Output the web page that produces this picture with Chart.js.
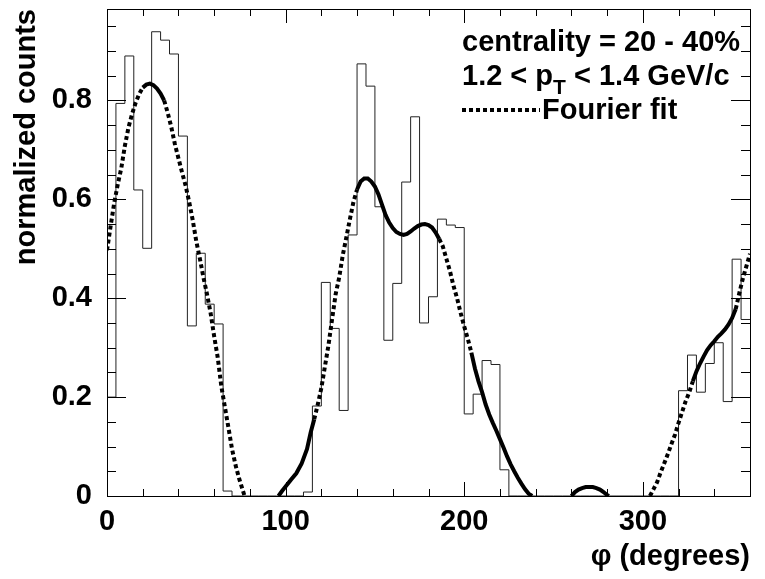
<!DOCTYPE html>
<html>
<head>
<meta charset="utf-8">
<script src="https://cdn.jsdelivr.net/npm/chart.js@4.4.1/dist/chart.umd.min.js"></script>
<style>
  html, body { margin: 0; padding: 0; background: #fff; }
</style>
</head>
<body>
<canvas id="phiChart" width="765" height="579"></canvas>
<script>
// histogram: 72 bins of 5 degrees, normalized counts
const binWidth = 5;
const binCounts = [
  0.200, 0.794, 0.890, 0.619, 0.501, 0.939, 0.922, 0.894, 0.728, 0.344,
  0.491, 0.388, 0.348, 0.010, 0, 0, 0, 0, 0, 0,
  0, 0, 0.008, 0.182, 0.432, 0.339, 0.173, 0.528, 0.874, 0.829,
  0.585, 0.315, 0.430, 0.635, 0.767, 0.350, 0.403, 0.560, 0.548, 0.543,
  0.166, 0.206, 0.274, 0.266, 0.053, 0, 0, 0, 0, 0,
  0, 0, 0, 0, 0, 0, 0, 0, 0, 0,
  0, 0, 0, 0, 0.213, 0.285, 0.210, 0.268, 0.310, 0.191,
  0.479, 0.357
];

// Fourier fit (null = below zero, not drawn)
const fitPhi = [
  0, 2, 4, 6, 8, 10, 12, 14, 16, 18, 20, 22, 24, 26, 28, 30, 32, 34, 36, 38,
  40, 42, 44, 46, 48, 50, 52, 54, 56, 58, 60, 62, 64, 66, 68, 70, 72, 74, 76, 77,
  86,
  96, 98, 100, 103, 106, 109, 112, 114, 116, 118, 120, 122, 124, 126, 128, 130, 132, 134, 136, 138,
  140, 142, 144, 146, 148, 150, 152, 154, 156, 158, 160, 162, 164, 166, 168, 170, 172, 174, 176, 178,
  180, 182, 184, 186, 188, 190, 192, 194, 196, 198, 200, 202, 204, 206, 208, 210, 212, 214, 216, 218,
  220, 222, 224, 226, 228, 230, 232, 234, 236, 238,
  249,
  260, 262, 264, 266, 268, 270, 272, 274, 276, 278, 280, 281,
  292,
  304, 306, 308, 310, 312, 314, 316, 318, 320, 322, 324, 326, 328, 330, 332, 334, 336, 338,
  340, 342, 344, 346, 348, 350, 352, 354, 356, 358, 360
];
const fitValue = [
  0.497, 0.545, 0.592, 0.630, 0.663, 0.708, 0.745, 0.772, 0.795, 0.813, 0.826, 0.832, 0.834, 0.831, 0.824, 0.814, 0.800, 0.775, 0.746, 0.712,
  0.683, 0.655, 0.628, 0.595, 0.558, 0.515, 0.480, 0.442, 0.408, 0.370, 0.323, 0.280, 0.222, 0.180, 0.138, 0.095, 0.062, 0.035, 0.012, 0,
  null,
  0, 0.010, 0.019, 0.033, 0.046, 0.066, 0.095, 0.128, 0.155, 0.185, 0.218, 0.262, 0.305, 0.357, 0.408, 0.442, 0.487, 0.523, 0.560, 0.595,
  0.620, 0.636, 0.642, 0.642, 0.636, 0.626, 0.610, 0.589, 0.568, 0.553, 0.542, 0.534, 0.530, 0.528, 0.530, 0.535, 0.541, 0.546, 0.549, 0.550,
  0.548, 0.543, 0.533, 0.520, 0.505, 0.480, 0.455, 0.425, 0.400, 0.370, 0.343, 0.318, 0.290, 0.258, 0.232, 0.210, 0.185, 0.165, 0.148, 0.132,
  0.115, 0.098, 0.080, 0.064, 0.050, 0.037, 0.025, 0.014, 0.005, 0,
  null,
  0, 0.008, 0.013, 0.016, 0.018, 0.018, 0.018, 0.016, 0.013, 0.008, 0.002, 0,
  null,
  0, 0.014, 0.028, 0.048, 0.066, 0.085, 0.105, 0.124, 0.148, 0.170, 0.192, 0.210, 0.232, 0.252, 0.268, 0.282, 0.295, 0.305,
  0.313, 0.322, 0.329, 0.337, 0.347, 0.360, 0.378, 0.410, 0.440, 0.465, 0.490
];

const xTicks = [0, 100, 200, 300];
const yTicks = [0, 0.2, 0.4, 0.6, 0.8];
const legendLines = ['centrality = 20 - 40%', '1.2 < p', 'T', ' < 1.4 GeV/c', 'Fourier fit'];

const FONT = "'Liberation Sans', Arial, Helvetica, sans-serif";
const dotDash = [4, 3];
// where the fit looks like a solid line in the original
const solidRanges = [[19, 31], [96, 115], [140, 186], [204, 240], [255, 285], [327, 351]];
const isSolid = phi => solidRanges.some(r => phi >= r[0] && phi < r[1]);

// histogram outline: one point per bin low edge, plus the last upper edge
const histPoints = binCounts.map((v, i) => ({ x: i * binWidth, y: v }));
histPoints.push({ x: binCounts.length * binWidth, y: binCounts[binCounts.length - 1] });
const fitPoints = fitPhi.map((p, i) => ({ x: p, y: fitValue[i] }));

// frame, ROOT-like inner ticks, and the text box
const rootFrame = {
  id: 'rootFrame',
  afterDatasetsDraw(chart) {
    const { ctx, chartArea: a, scales: { x, y } } = chart;
    ctx.save();
    ctx.strokeStyle = '#000';
    ctx.lineWidth = 1;
    ctx.beginPath();
    for (let i = 0; i <= 18; i++) {
      const phi = i * 20;
      const px = Math.round(x.getPixelForValue(phi)) + 0.5;
      const len = phi % 100 === 0 ? 14 : 7;
      ctx.moveTo(px, a.bottom); ctx.lineTo(px, a.bottom - len);
      ctx.moveTo(px, a.top); ctx.lineTo(px, a.top + len);
    }
    for (let i = 0; i * 0.05 <= y.max; i++) {
      const py = Math.round(y.getPixelForValue(i * 0.05)) + 0.5;
      const len = i % 4 === 0 ? 19 : 9;
      ctx.moveTo(a.left, py); ctx.lineTo(a.left + len, py);
      ctx.moveTo(a.right, py); ctx.lineTo(a.right - len, py);
    }
    ctx.stroke();
    ctx.strokeRect(Math.round(a.left) + 0.5, Math.round(a.top) + 0.5,
      Math.round(a.right - a.left), Math.round(a.bottom - a.top));
    ctx.restore();
  },
  afterDraw(chart) {
    const { ctx } = chart;
    ctx.save();
    ctx.fillStyle = '#000';
    ctx.textBaseline = 'alphabetic';
    ctx.font = 'bold 29px ' + FONT;
    const x0 = 462;
    ctx.fillText(legendLines[0], x0, 51);
    ctx.fillText(legendLines[1], x0, 85);
    let w = ctx.measureText(legendLines[1]).width;
    ctx.font = 'bold 21px ' + FONT;
    ctx.fillText(legendLines[2], x0 + w, 94);
    w += ctx.measureText(legendLines[2]).width;
    ctx.font = 'bold 29px ' + FONT;
    ctx.fillText(legendLines[3], x0 + w, 85);
    // dotted sample of the fit line
    ctx.strokeStyle = '#000';
    ctx.lineWidth = 4;
    ctx.setLineDash(dotDash);
    ctx.beginPath();
    ctx.moveTo(x0, 110);
    ctx.lineTo(x0 + 78, 110);
    ctx.stroke();
    ctx.setLineDash([]);
    ctx.fillText(legendLines[4], x0 + 80, 119);
    ctx.restore();
  }
};

const ctx = document.getElementById('phiChart').getContext('2d');
new Chart(ctx, {
  type: 'line',
  data: {
    datasets: [
      {
        label: 'Fourier fit',
        data: fitPoints,
        borderColor: '#000',
        borderWidth: 4,
        borderCapStyle: 'butt',
        pointRadius: 0,
        spanGaps: false,
        order: 1,
        segment: {
          borderDash: c => isSolid(c.p0.parsed.x) ? [] : dotDash
        }
      },
      {
        label: 'data',
        data: histPoints,
        stepped: 'before',
        borderColor: '#222',
        borderWidth: 1,
        pointRadius: 0,
        order: 2
      }
    ]
  },
  options: {
    responsive: false,
    animation: false,
    devicePixelRatio: 1,
    layout: { padding: { top: 9, right: 15, left: 0, bottom: 0 } },
    plugins: {
      legend: { display: false },
      tooltip: { enabled: false }
    },
    scales: {
      x: {
        type: 'linear',
        min: 0,
        max: 360,
        afterFit(s) { s.height = 83; s.paddingLeft = 0; s.paddingRight = 0; },
        afterBuildTicks(s) { s.ticks = xTicks.map(v => ({ value: v })); },
        grid: { display: false, drawTicks: false },
        border: { display: false },
        ticks: {
          color: '#000',
          padding: 9,
          maxRotation: 0,
          autoSkip: false,
          font: { family: FONT, size: 29, weight: 'bold' }
        },
        title: {
          display: true,
          text: 'φ (degrees)',
          align: 'end',
          color: '#000',
          padding: { top: 0, bottom: 5 },
          font: { family: FONT, size: 29, weight: 'bold' }
        }
      },
      y: {
        type: 'linear',
        min: 0,
        max: 0.985,
        afterFit(s) { s.width = 107; s.paddingTop = 0; s.paddingBottom = 0; },
        afterBuildTicks(s) { s.ticks = yTicks.map(v => ({ value: v })); },
        grid: { display: false, drawTicks: false },
        border: { display: false },
        ticks: {
          color: '#000',
          padding: 15,
          callback: v => String(v),
          font: { family: FONT, size: 29, weight: 'bold' }
        },
        title: {
          display: true,
          text: 'normalized counts',
          align: 'end',
          color: '#000',
          padding: { top: 10, bottom: 0 },
          font: { family: FONT, size: 29, weight: 'bold' }
        }
      }
    }
  },
  plugins: [rootFrame]
});
</script>
</body>
</html>
